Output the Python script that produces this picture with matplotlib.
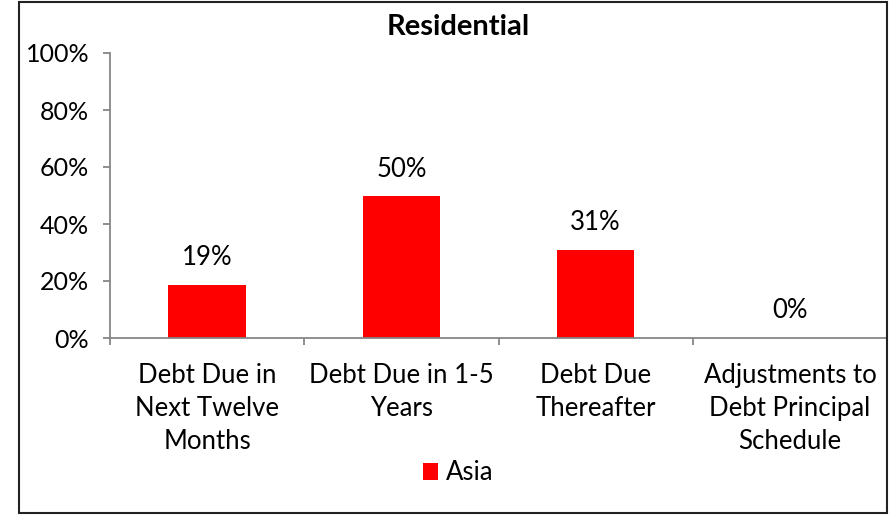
import matplotlib
matplotlib.use('Agg')
import matplotlib.pyplot as plt
from matplotlib.patches import Rectangle

# data
categories = ['Debt Due in\nNext Twelve\nMonths', 'Debt Due in 1-5\nYears',
              'Debt Due\nThereafter', 'Adjustments to\nDebt Principal\nSchedule']
asia = [0.187, 0.497, 0.31, 0.0]
yticks = [0, 0.2, 0.4, 0.6, 0.8, 1.0]

plt.rcParams['font.family'] = ['Lato', 'DejaVu Sans']
fs = 18.5

fig = plt.figure(figsize=(8.92, 5.15), dpi=100)
ax = fig.add_axes([110 / 892, 1 - 338 / 515, 777 / 892, 285 / 515])

x = range(len(categories))
bars = ax.bar(x, asia, width=0.4, color='#ff0000', label='Asia')

for xi, v in zip(x, asia):
    ax.annotate('{:.0%}'.format(v), (xi, v), xytext=(0, 27), textcoords='offset pixels',
                ha='center', va='center', fontsize=fs)

ax.set_ylim(0, 1)
ax.set_xlim(-0.5, len(categories) - 0.5)
ax.set_yticks(yticks)
ax.set_yticklabels(['{:.0%}'.format(t) for t in yticks], fontsize=18)
ax.set_xticks([i - 0.5 for i in range(len(categories) + 1)])
ax.set_xticklabels([])
ax.set_xticks(list(x), minor=True)
ax.set_xticklabels(categories, minor=True, fontsize=fs, linespacing=1.4)
ax.tick_params(axis='x', which='minor', length=0, pad=18)
ax.tick_params(axis='x', which='major', length=5, color='#868686', width=1.3)
ax.tick_params(axis='y', length=5, color='#868686', width=1.3, pad=10)

for s in ['top', 'right']:
    ax.spines[s].set_visible(False)
for s in ['left', 'bottom']:
    ax.spines[s].set_color('#868686')
    ax.spines[s].set_linewidth(1.3)

fig.text(458 / 892, 1 - 27 / 515, 'Residential', ha='center', va='center',
         fontsize=21, fontweight='bold')

fig.legend(loc='center', bbox_to_anchor=(458 / 892, 1 - 473 / 515), frameon=False,
           fontsize=fs, handlelength=0.6, handleheight=0.6, handletextpad=0.3)

fig.patches.append(Rectangle((19 / 892, 2 / 515), 868 / 892, 511 / 515,
                             transform=fig.transFigure, fill=False,
                             edgecolor='#222222', linewidth=1.5))

fig.savefig('out.png', dpi=100)
